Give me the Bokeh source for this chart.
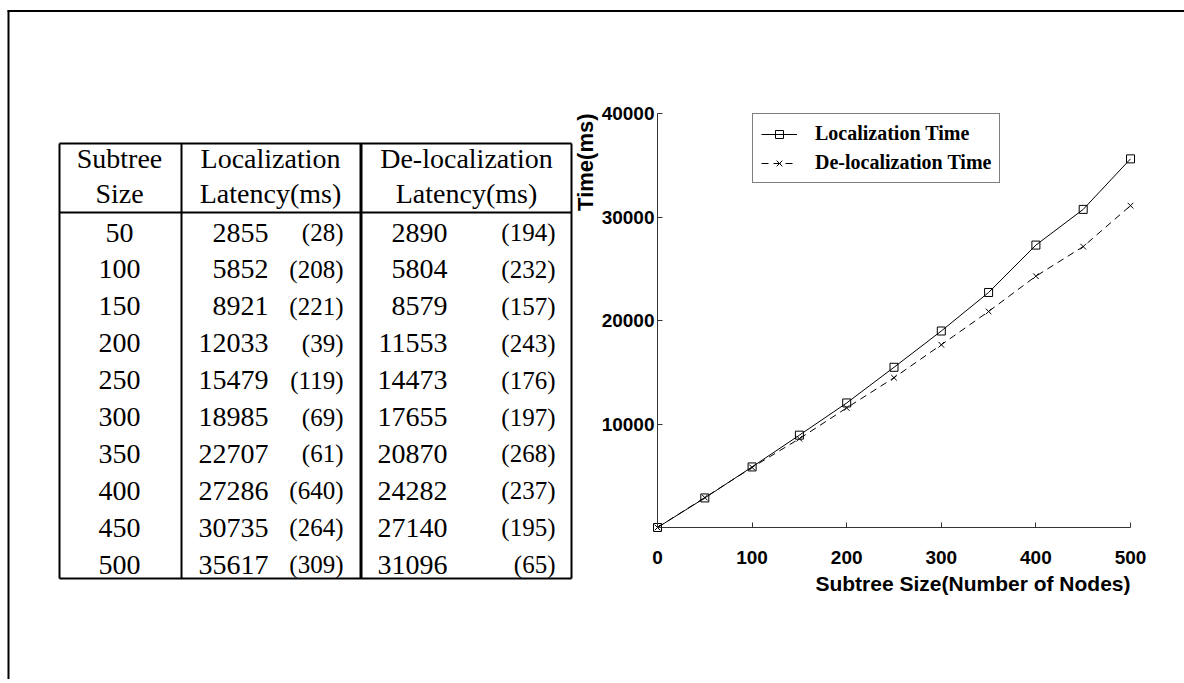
import numpy as np
from bokeh.plotting import figure
from bokeh.layouts import column
from bokeh.models import (Range1d, FixedTicker, Legend, LegendItem, Label,
                          ColumnDataSource, LinearAxis)
from bokeh.core.properties import value
from bokeh.embed import file_html
from bokeh.resources import INLINE

# ---------------- data ----------------
subtree_size = [50, 100, 150, 200, 250, 300, 350, 400, 450, 500]
loc_latency = [2855, 5852, 8921, 12033, 15479, 18985, 22707, 27286, 30735, 35617]
loc_sd = [28, 208, 221, 39, 119, 69, 61, 640, 264, 309]
deloc_latency = [2890, 5804, 8579, 11553, 14473, 17655, 20870, 24282, 27140, 31096]
deloc_sd = [194, 232, 157, 243, 176, 197, 268, 237, 195, 65]
origin_x = [0]          # both curves start at the origin
origin_y = [0]
x_ticks = [0, 100, 200, 300, 400, 500]
y_ticks = [10000, 20000, 30000, 40000]
header_col1 = ["Subtree", "Size"]
header_col2 = ["Localization", "Latency(ms)"]
header_col3 = ["De-localization", "Latency(ms)"]
series_names = ["Localization Time", "De-localization Time"]
x_title = "Subtree Size(Number of Nodes)"
y_title = "Time(ms)"

# ---------------- layout constants (pixels) ----------------
W = 1184
H = 679          # canvas height kept a little under the window
SERIF = "Liberation Serif"
SANS = "Liberation Sans"

# where the chart axes sit on the page
AX_LEFT, AX_RIGHT = 657, 1130      # x = 0 .. 500
AX_BOTTOM, AX_TOP = 527, 113       # y = 0 .. 40000 (from page top)
x0, x1 = x_ticks[0], x_ticks[-1]
y0, y1 = 0, y_ticks[-1]
sx = (AX_RIGHT - AX_LEFT) / (x1 - x0)
sy = (AX_BOTTOM - AX_TOP) / (y1 - y0)
x_range = Range1d(x0 - AX_LEFT / sx, x1 + (W - AX_RIGHT) / sx)
y_range = Range1d(y0 - (H - AX_BOTTOM) / sy, y1 + AX_TOP / sy)

p = figure(width=W, height=H, x_range=x_range, y_range=y_range,
           output_backend="svg", toolbar_location=None, title=None,
           x_axis_location=None, y_axis_location=None, min_border=0)
p.grid.visible = False
p.outline_line_color = None
p.background_fill_color = "white"
p.border_fill_color = "white"
# pixel coordinate system (top-left origin) for the table and page frame
p.extra_x_ranges = {"px": Range1d(0, W)}
p.extra_y_ranges = {"px": Range1d(H, 0)}
PX = dict(x_range_name="px", y_range_name="px")

# ---------------- outer page frame ----------------
p.line([7, W + 2], [10.5, 10.5], line_width=2, line_color="black", **PX)
p.line([8, 8], [10, H + 2], line_width=2, line_color="black", **PX)

# ---------------- table ----------------
T_L, T_R, T_T, T_B = 59, 571, 143, 578
SEP_Y = 212
C1, C2 = 181, 360.5
p.segment(x0=[T_L, T_L, T_L, T_R, C1, T_L], y0=[T_T, T_B, T_T, T_T, T_T, SEP_Y],
          x1=[T_R, T_R, T_L, T_R, C1, T_R], y1=[T_T, T_B, T_B, T_B, T_B, SEP_Y],
          line_width=2, line_color="black", **PX)
p.segment(x0=[C2], y0=[T_T], x1=[C2], y1=[T_B], line_width=3, line_color="black", **PX)

HDR_Y = [158, 193]
ROW0, ROW_H = 232, 36.9
row_y = [ROW0 + i * ROW_H for i in range(len(subtree_size))]
MAIN_FS = "28px"
PAR_FS = "25px"

hdr = ColumnDataSource(dict(
    x=[119, 119, 270, 270, 466, 466],
    y=HDR_Y * 3,
    t=header_col1 + header_col2 + header_col3))
p.text("x", "y", text="t", source=hdr, text_align="center", text_baseline="middle",
       text_font=value(SERIF), text_font_size=MAIN_FS, text_color="black", **PX)

body = ColumnDataSource(dict(
    y=row_y,
    size=[str(v) for v in subtree_size],
    lm=[str(v) for v in loc_latency],
    ls=["(%d)" % v for v in loc_sd],
    dm=[str(v) for v in deloc_latency],
    ds=["(%d)" % v for v in deloc_sd]))
common = dict(source=body, text_baseline="middle", text_font=value(SERIF),
              text_color="black", **PX)
p.text(x=119, y="y", text="size", text_align="center", text_font_size=MAIN_FS, **common)
p.text(x=268, y="y", text="lm", text_align="right", text_font_size=MAIN_FS, **common)
p.text(x=343, y="y", text="ls", text_align="right", text_font_size=PAR_FS, **common)
p.text(x=447, y="y", text="dm", text_align="right", text_font_size=MAIN_FS, **common)
p.text(x=555, y="y", text="ds", text_align="right", text_font_size=PAR_FS, **common)

# ---------------- chart axes ----------------
xaxis = LinearAxis(ticker=FixedTicker(ticks=x_ticks), fixed_location=0, bounds=(x0, x1))
yaxis = LinearAxis(ticker=FixedTicker(ticks=y_ticks), fixed_location=0, bounds=(y0, y1))
for ax in (xaxis, yaxis):
    ax.axis_line_color = "#333333"
    ax.axis_line_width = 1
    ax.major_tick_line_color = "#333333"
    ax.major_tick_in = 5
    ax.major_tick_out = 0
    ax.minor_tick_line_color = None
    ax.major_label_text_font = SANS
    ax.major_label_text_font_style = "bold"
    ax.major_label_text_font_size = "19px"
    ax.major_label_text_color = "black"
xaxis.major_label_standoff = 23
yaxis.major_label_standoff = 3
p.add_layout(xaxis, "below")
p.add_layout(yaxis, "left")

# ---------------- series ----------------
xs = origin_x + subtree_size
src = ColumnDataSource(dict(x=xs, loc=origin_y + loc_latency, deloc=origin_y + deloc_latency))
l1 = p.line("x", "loc", source=src, line_color="black", line_width=1)
s1 = p.scatter("x", "loc", source=src, marker="square", size=8, fill_color=None,
               line_color="black", line_width=1)
l2 = p.line("x", "deloc", source=src, line_color="black", line_width=1, line_dash="7 5")
s2 = p.scatter("x", "deloc", source=src, marker="x", size=8, line_color="black", line_width=1)

legend = Legend(items=[LegendItem(label=series_names[0], renderers=[l1, s1]),
                       LegendItem(label=series_names[1], renderers=[l2, s2])],
                location=(752, H - 183), orientation="vertical")
legend.label_text_font = SERIF
legend.label_text_font_style = "bold"
legend.label_text_font_size = "20px"
legend.label_text_color = "black"
legend.border_line_color = "black"
legend.border_line_width = 1
legend.background_fill_color = "white"
legend.background_fill_alpha = 1
legend.padding = 8
legend.spacing = 6
legend.margin = 0
legend.glyph_width = 36
legend.glyph_height = 20
legend.label_height = 20
legend.label_standoff = 18
p.add_layout(legend)

# ---------------- axis titles ----------------
p.add_layout(Label(x=x0, y=y1, x_offset=-72, text=y_title, angle=np.pi / 2,
                   text_align="right", text_baseline="middle", text_font=SANS,
                   text_font_style="bold", text_font_size="22px", text_color="black"))
p.add_layout(Label(x=x1, y=y0, y_offset=-56, text=x_title,
                   text_align="right", text_baseline="middle", text_font=SANS,
                   text_font_style="bold", text_font_size="21px", text_color="black"))

layout = column(p)
open("out.html", "w").write(file_html(layout, INLINE))
